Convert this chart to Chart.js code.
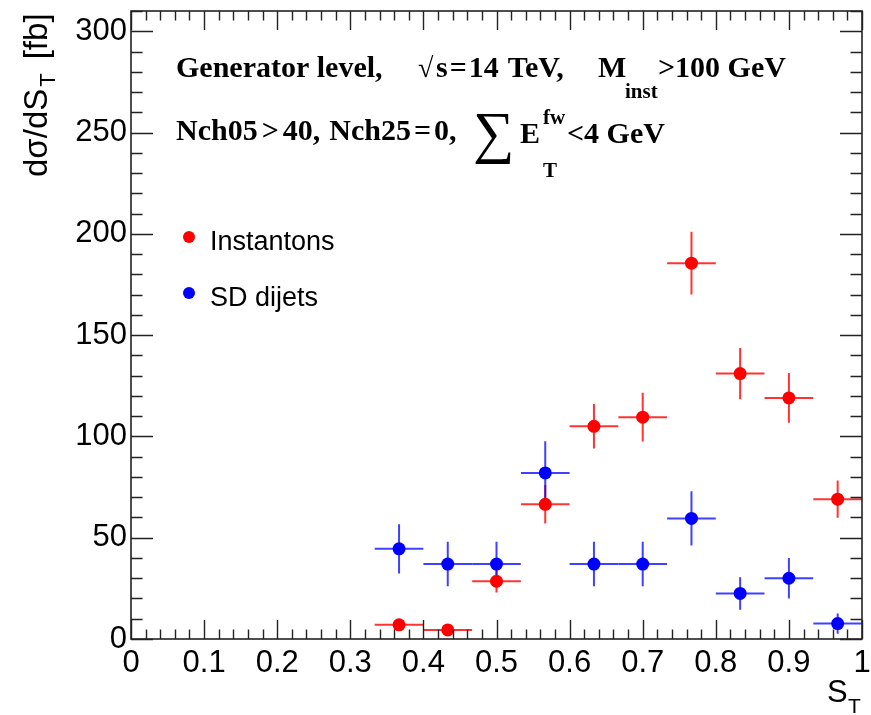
<!DOCTYPE html>
<html>
<head>
<meta charset="utf-8">
<script src="https://cdn.jsdelivr.net/npm/chart.js@4.4.1/dist/chart.umd.min.js"></script>
<style>
  body { margin: 0; background: #fff; }
  canvas { display: block; }
</style>
</head>
<body>
<canvas id="stChart" width="871" height="715"></canvas>
<script>
// S_T distribution, bins of width 1/15 from 1/3 to 1
const binCenters = [0.3667, 0.4333, 0.5, 0.5667, 0.6333, 0.7, 0.7667, 0.8333, 0.9, 0.9667];
const binHalfWidth = 0.0333;

const instantons = [7, 4.5, 28.5, 66.5, 105, 109.5, 185.5, 131, 119, 69];
const instantonErr = [2.7, 2.1, 5.6, 9.5, 11, 12, 15.5, 12.7, 12.3, 9.2];

const sdDijets = [44.5, 37, 37, 82, 37, 37, 59.5, 22.5, 30, 7.6];
const sdDijetErr = [12.2, 11, 11, 15.6, 11, 11, 13.4, 8, 10, 5];

const xTicks = [0, 0.1, 0.2, 0.3, 0.4, 0.5, 0.6, 0.7, 0.8, 0.9, 1];
const yTicks = [0, 50, 100, 150, 200, 250, 300];

const RED = "#ff0000";
const BLUE = "#0000ff";
const SANS = "'Liberation Sans', Arial, sans-serif";
const SERIF = "'Liberation Serif', 'Times New Roman', serif";

function toPoints(vals, errs) {
  return binCenters.map((c, i) => ({ x: c, y: vals[i], err: errs[i] }));
}

// error bars drawn under the markers
const errorBars = {
  id: "errorBars",
  beforeDatasetsDraw(chart) {
    const { ctx, chartArea, scales } = chart;
    const xs = scales.x, ys = scales.y;
    ctx.save();
    ctx.beginPath();
    ctx.rect(chartArea.left, chartArea.top, chartArea.right - chartArea.left, chartArea.bottom - chartArea.top);
    ctx.clip();
    chart.data.datasets.forEach((ds) => {
      ctx.strokeStyle = ds.errColor;
      ctx.lineWidth = 2;
      ds.data.forEach((p) => {
        const px = xs.getPixelForValue(p.x);
        const py = ys.getPixelForValue(p.y);
        ctx.beginPath();
        ctx.moveTo(xs.getPixelForValue(p.x - binHalfWidth), py);
        ctx.lineTo(xs.getPixelForValue(p.x + binHalfWidth), py);
        ctx.moveTo(px, ys.getPixelForValue(p.y - p.err));
        ctx.lineTo(px, ys.getPixelForValue(p.y + p.err));
        ctx.stroke();
      });
    });
    ctx.restore();
  }
};

// ROOT style frame with inward ticks on all four sides
const rootFrame = {
  id: "rootFrame",
  afterDatasetsDraw(chart) {
    const { ctx, chartArea: a, scales } = chart;
    const xs = scales.x, ys = scales.y;
    ctx.save();
    ctx.strokeStyle = "#222";
    ctx.lineWidth = 1.6;
    ctx.strokeRect(a.left, a.top, a.right - a.left, a.bottom - a.top);
    ctx.lineWidth = 1.4;
    ctx.beginPath();
    for (let i = 0; i <= 50; i++) {
      const v = i * 0.02;
      const px = Math.round(xs.getPixelForValue(v)) + 0.5;
      const len = i % 5 === 0 ? 19 : 9.5;
      ctx.moveTo(px, a.bottom); ctx.lineTo(px, a.bottom - len);
      ctx.moveTo(px, a.top); ctx.lineTo(px, a.top + len);
    }
    for (let v = 0; v <= 310; v += 10) {
      const py = Math.round(ys.getPixelForValue(v)) + 0.5;
      const len = v % 50 === 0 ? 22 : 11.5;
      ctx.moveTo(a.left, py); ctx.lineTo(a.left + len, py);
      ctx.moveTo(a.right, py); ctx.lineTo(a.right - len, py);
    }
    ctx.stroke();
    ctx.restore();
  }
};

// draw text pieces one after another, each with its own font, gap and baseline shift
function drawRun(ctx, x, y, pieces) {
  pieces.forEach((p) => {
    ctx.font = p.font;
    x += p.gap || 0;
    ctx.fillText(p.text, x, y + (p.dy || 0));
    x += ctx.measureText(p.text).width;
  });
  return x;
}

// titles, header text and legend
const annotations = {
  id: "annotations",
  afterDraw(chart) {
    const ctx = chart.ctx;
    ctx.save();
    ctx.fillStyle = "#000";
    ctx.textBaseline = "alphabetic";
    ctx.textAlign = "left";

    // y axis title
    ctx.save();
    ctx.translate(47, 177);
    ctx.rotate(-Math.PI / 2);
    drawRun(ctx, 0, 0, [
      { text: "d\u03c3/dS", font: "33px " + SANS },
      { text: "T", font: "22px " + SANS, gap: 2, dy: 8 },
      { text: "[fb]", font: "33px " + SANS, gap: 14 }
    ]);
    ctx.restore();

    // x axis title
    ctx.font = "31px " + SANS;
    ctx.fillText("S", 827, 702);
    ctx.font = "21px " + SANS;
    ctx.fillText("T", 848, 713);

    const B30 = "bold 30px " + SERIF;
    const B21 = "bold 21px " + SERIF;

    // header line 1
    ctx.font = B30;
    ctx.fillText("Generator level,", 176, 77);
    ctx.font = "28px " + SERIF;
    ctx.fillText("\u221a", 418, 77);
    drawRun(ctx, 436, 77, [
      { text: "s", font: B30 },
      { text: "=", font: B30, gap: 2 },
      { text: "14", font: B30, gap: 2 },
      { text: "TeV,", font: B30, gap: 9 }
    ]);
    ctx.font = B30;
    ctx.fillText("M", 598, 77);
    ctx.font = B21;
    ctx.fillText("inst", 625, 98);
    ctx.font = B30;
    ctx.fillText(">100 GeV", 658, 77);

    // header line 2
    drawRun(ctx, 176, 140, [
      { text: "Nch05", font: B30 },
      { text: ">", font: B30, gap: 4 },
      { text: "40,", font: B30, gap: 4 },
      { text: "Nch25", font: B30, gap: 9 },
      { text: "=", font: B30, gap: 3 },
      { text: "0,", font: B30, gap: 3 }
    ]);
    ctx.font = "58px " + SERIF;
    ctx.fillText("\u2211", 473, 152);
    ctx.font = B30;
    ctx.fillText("E", 520, 143);
    ctx.font = B21;
    ctx.fillText("fw", 543, 124);
    ctx.fillText("T", 543, 177);
    ctx.font = B30;
    ctx.fillText("<4 GeV", 567, 143);

    // legend
    const entries = [
      { label: "Instantons", color: RED, y: 241 },
      { label: "SD dijets", color: BLUE, y: 297 }
    ];
    entries.forEach((e) => {
      ctx.fillStyle = e.color;
      ctx.beginPath();
      ctx.arc(189, e.y - 4, 6, 0, Math.PI * 2);
      ctx.fill();
      ctx.fillStyle = "#000";
      ctx.font = "27px " + SANS;
      ctx.fillText(e.label, 210, e.y + 9);
    });
    ctx.restore();
  }
};

function noScalePadding(scale) {
  scale.paddingTop = 0;
  scale.paddingBottom = 0;
  scale.paddingLeft = 0;
  scale.paddingRight = 0;
}

const ctx = document.getElementById("stChart").getContext("2d");

new Chart(ctx, {
  type: "scatter",
  data: {
    datasets: [
      {
        label: "Instantons",
        data: toPoints(instantons, instantonErr),
        backgroundColor: RED,
        borderWidth: 0,
        pointRadius: 6.5,
        errColor: "rgba(255, 0, 0, 0.8)"
      },
      {
        label: "SD dijets",
        data: toPoints(sdDijets, sdDijetErr),
        backgroundColor: BLUE,
        borderWidth: 0,
        pointRadius: 6.5,
        errColor: "rgba(0, 0, 255, 0.75)"
      }
    ]
  },
  options: {
    responsive: false,
    animation: false,
    devicePixelRatio: 1,
    layout: { padding: { top: 11, right: 9, left: 0, bottom: 0 } },
    plugins: {
      legend: { display: false },
      tooltip: { enabled: false }
    },
    scales: {
      x: {
        type: "linear",
        min: 0,
        max: 1,
        afterBuildTicks: (scale) => { scale.ticks = xTicks.map((v) => ({ value: v })); },
        afterFit: (scale) => { scale.height = 76; noScalePadding(scale); },
        grid: { display: false, drawTicks: false },
        border: { display: false },
        ticks: {
          autoSkip: false,
          maxRotation: 0,
          padding: 6,
          color: "#000",
          font: { family: SANS, size: 31 },
          callback: (v) => String(Math.round(v * 10) / 10)
        }
      },
      y: {
        min: 0,
        max: 310,
        afterBuildTicks: (scale) => { scale.ticks = yTicks.map((v) => ({ value: v })); },
        afterFit: (scale) => { scale.width = 131; noScalePadding(scale); },
        grid: { display: false, drawTicks: false },
        border: { display: false },
        ticks: {
          padding: 4,
          color: "#000",
          font: { family: SANS, size: 31 },
          callback: (v) => String(v)
        }
      }
    }
  },
  plugins: [errorBars, rootFrame, annotations]
});
</script>
</body>
</html>
